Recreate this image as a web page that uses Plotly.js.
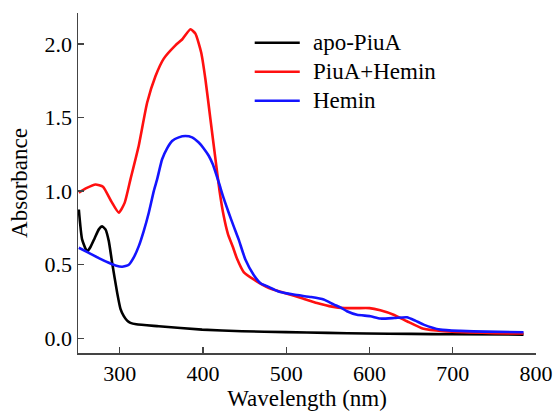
<!DOCTYPE html>
<html>
<head>
<meta charset="utf-8">
<script src="https://cdn.plot.ly/plotly-3.0.1.min.js"></script>
<style>
html,body{margin:0;padding:0;background:#fff;}
#chart{width:556px;height:412px;}
#chart svg text{font-family:"Liberation Serif","Times New Roman","DejaVu Serif",serif !important;}
</style>
</head>
<body>
<div id="chart"></div>
<script>
// Series names
const seriesNames = ["apo-PiuA", "PiuA+Hemin", "Hemin"];

// apo-PiuA
const apoX = [251, 255, 261, 265, 270, 275, 279, 283, 287, 291, 297, 301, 305, 309, 313, 320, 347, 399, 447, 500, 550, 597, 650, 700, 785];
const apoY = [0.875, 0.67, 0.59, 0.62, 0.68, 0.74, 0.76, 0.74, 0.66, 0.513, 0.31, 0.2, 0.15, 0.12, 0.105, 0.095, 0.082, 0.059, 0.048, 0.042, 0.037, 0.032, 0.03, 0.027, 0.025];

// PiuA+Hemin
const piuHemX = [251, 260, 271, 280, 290, 299, 306, 313, 323, 333, 343, 353, 367, 375, 385, 391, 398, 403, 409, 415, 420, 425, 430, 436, 441, 449, 461, 480, 497, 520, 537, 555, 570, 585, 600, 613, 629, 645, 665, 689, 720, 750, 785];
const piuHemY = [0.99, 1.02, 1.045, 1.03, 0.93, 0.853, 0.92, 1.08, 1.31, 1.60, 1.78, 1.90, 1.99, 2.03, 2.10, 2.07, 1.94, 1.76, 1.49, 1.22, 1.0, 0.83, 0.71, 0.62, 0.54, 0.45, 0.40, 0.34, 0.31, 0.27, 0.24, 0.215, 0.205, 0.205, 0.205, 0.19, 0.16, 0.116, 0.064, 0.048, 0.04, 0.035, 0.032];

// Hemin
const heminX = [251, 263, 275, 287, 295, 303, 311, 317, 323, 329, 335, 341, 345, 351, 357, 363, 371, 379, 387, 395, 401, 407, 412, 419, 425, 431, 437, 443, 451, 461, 470, 477, 490, 509, 530, 545, 557, 565, 573, 585, 601, 613, 630, 645, 655, 665, 685, 709, 740, 785];
const heminY = [0.615, 0.58, 0.545, 0.513, 0.495, 0.486, 0.50, 0.55, 0.626, 0.73, 0.853, 1.0, 1.08, 1.216, 1.29, 1.34, 1.365, 1.374, 1.365, 1.33, 1.29, 1.24, 1.18, 1.06, 0.95, 0.853, 0.76, 0.67, 0.535, 0.43, 0.37, 0.354, 0.32, 0.297, 0.28, 0.263, 0.23, 0.21, 0.184, 0.16, 0.15, 0.134, 0.138, 0.143, 0.12, 0.093, 0.059, 0.05, 0.045, 0.041];

const xTicks = [300, 400, 500, 600, 700, 800];
const yTicks = [0.0, 0.5, 1.0, 1.5, 2.0];
const yTickText = ["0.0", "0.5", "1.0", "1.5", "2.0"];

const colors = ["#000000", "#ff1010", "#1414ff"];
const FONT = "Times New Roman";

const traces = [
  {x: apoX, y: apoY, name: seriesNames[0]},
  {x: piuHemX, y: piuHemY, name: seriesNames[1]},
  {x: heminX, y: heminY, name: seriesNames[2]}
].map((t, i) => Object.assign(t, {
  type: "scatter", mode: "lines",
  line: {color: colors[i], width: 2.6, shape: "spline", smoothing: 0.5},
  showlegend: false
}));

// custom legend (longer line samples like the reference)
const legY = [0.9126, 0.8274, 0.7421];
const shapes = [];
const annotations = [];
seriesNames.forEach((n, i) => {
  shapes.push({type: "line", xref: "paper", yref: "paper", x0: 0.3858, x1: 0.4842, y0: legY[i], y1: legY[i],
    line: {color: colors[i], width: 2.6}});
  annotations.push({xref: "paper", yref: "paper", x: 0.508, y: legY[i], xanchor: "left", yanchor: "middle",
    text: n, showarrow: false, font: {family: FONT, size: 23, color: "#000"}});
});

function axisBase() {
  return {
    showline: true, linecolor: "#444", linewidth: 1.5,
    ticks: "inside", ticklen: 6, tickwidth: 1.3, tickcolor: "#444",
    showgrid: false, zeroline: false,
    tickfont: {family: FONT, size: 22, color: "#000"}
  };
}

const layout = {
  width: 556, height: 412,
  margin: {l: 78, r: 20, t: 13, b: 59},
  font: {family: FONT, size: 22, color: "#000"},
  xaxis: Object.assign(axisBase(), {
    range: [250, 800], tickvals: xTicks, ticktext: xTicks.map(String),
    title: {text: "Wavelength (nm)", font: {family: FONT, size: 23, color: "#000"}, standoff: 2}
  }),
  yaxis: Object.assign(axisBase(), {
    range: [-0.1, 2.21], tickvals: yTicks, ticktext: yTickText,
    title: {text: "Absorbance", font: {family: FONT, size: 23, color: "#000"}, standoff: 10}
  }),
  shapes: shapes,
  annotations: annotations,
  showlegend: false
};

Plotly.newPlot("chart", traces, layout, {staticPlot: true});
</script>
</body>
</html>
